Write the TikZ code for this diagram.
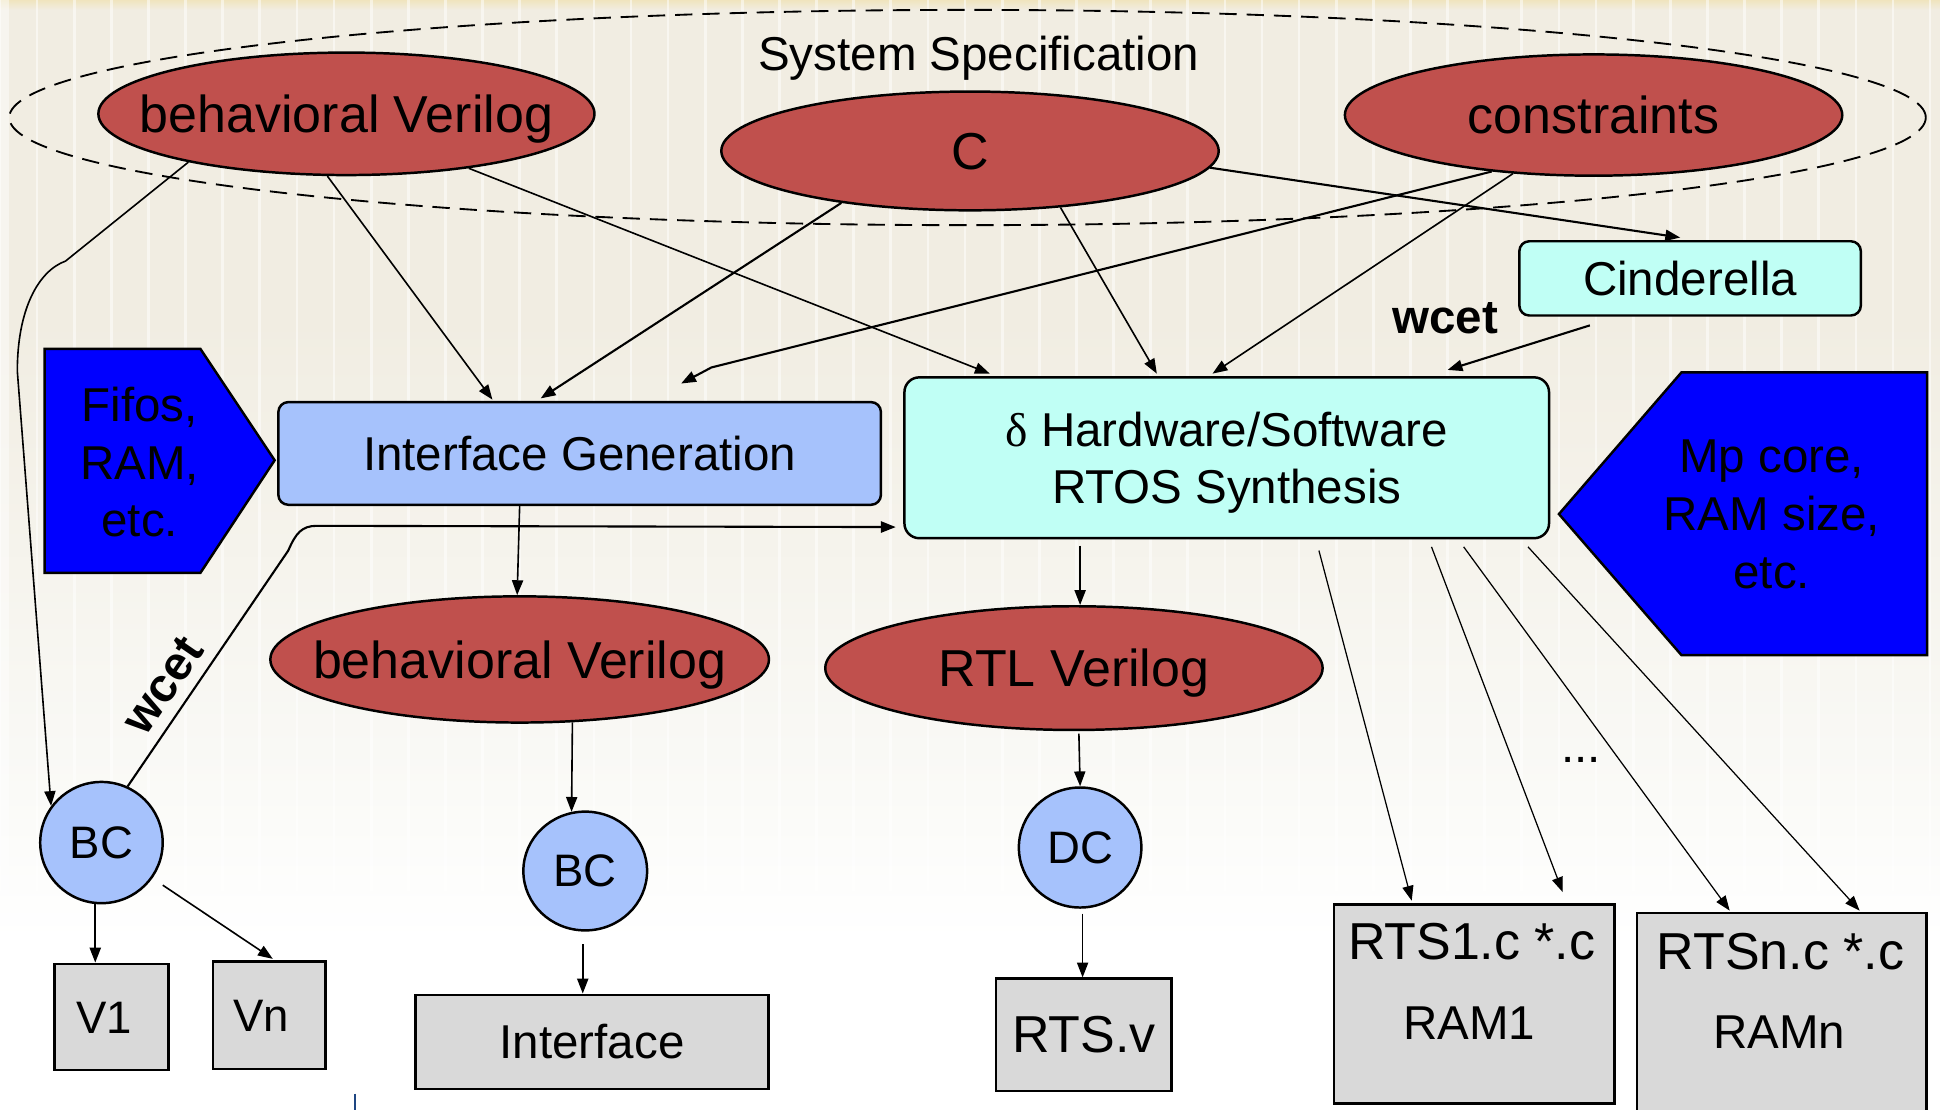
\documentclass[tikz,border=0pt]{standalone}
\usepackage{fontspec}
\setmainfont{Liberation Sans}
\newfontfamily\greekserif{Liberation Serif}
\usetikzlibrary{shapes.geometric,arrows.meta,calc}

\definecolor{specred}{RGB}{192,80,77}
\definecolor{paleblue}{RGB}{166,194,252}
\definecolor{palecyan}{RGB}{192,255,245}
\definecolor{padblue}{RGB}{0,0,255}
\definecolor{filegrey}{RGB}{217,217,217}
\definecolor{paper}{RGB}{241,237,226}
\definecolor{paperlight}{RGB}{250,250,247}
\definecolor{papertop}{RGB}{240,228,190}
\definecolor{inkblue}{RGB}{30,70,130}

\begin{document}
\begin{tikzpicture}[x=0.5pt,y=-0.5pt,
  big/.style={font=\fontsize{21}{25}\selectfont},
  std/.style={font=\fontsize{19.2}{23.4}\selectfont},
  lbl/.style={font=\fontsize{18.4}{22}\selectfont},
  spec/.style={ellipse, draw=black, line width=1pt, fill=specred,
    inner xsep=-40pt, inner ysep=-4pt, text depth=0pt, big},
  proc/.style={rectangle, rounded corners=4pt, draw=black, line width=1pt,
    inner sep=0pt, std},
  tool/.style={ellipse, draw=black, line width=1pt, fill=paleblue,
    inner sep=0pt, lbl},
  filebox/.style={rectangle, draw=black, line width=1pt, fill=filegrey,
    inner sep=0pt},
  pad/.style={draw=black, line width=1pt, fill=padblue},
  tip/.style={-{Triangle[length=6pt,width=4.5pt]}},
  flow/.style={tip, line width=0.65pt},
  flowb/.style={tip, line width=0.85pt},
  flowt/.style={tip, line width=0.5pt},
]
\useasboundingbox (0,0) rectangle (1568,897);
\clip (0,0) rectangle (1568,897);

% paper background with a faint grid
\fill[white] (0,0) rectangle (1568,897);
\fill[paper] (0,0) rectangle (1568,260);
\shade[top color=paper, bottom color=paperlight] (0,259) rectangle (1568,640);
\shade[top color=paperlight, bottom color=white] (0,639) rectangle (1568,760);
\shade[top color=papertop, bottom color=paper] (0,0) rectangle (1568,8);
\draw[white, opacity=0.5, line width=1.1pt, step=30] (0,0) grid (1568,720);
\fill[white, opacity=0.45] (0,0) rectangle (7,897);
\draw[inkblue, line width=1pt] (287,884) -- (287,897);

% system specification
\node[ellipse, draw=black, line width=0.75pt, dash pattern=on 7pt off 4pt,
  minimum width=774.5pt, minimum height=87pt, inner sep=0pt] (sys) at (782,95) {};
\node[std, text depth=0pt] (systxt) at (791,43) {System Specification};
\node[spec, minimum width=200.5pt, minimum height=49.5pt] (bv1) at (280,92) {behavioral Verilog};
\node[spec, minimum width=201pt, minimum height=48pt] (cc) at (784,122) {C};
\node[spec, minimum width=201pt, minimum height=49pt] (cons) at (1288,93) {constraints};

% synthesis steps
\node[proc, fill=paleblue, minimum width=243.5pt, minimum height=41.5pt] (ig) at (468.5,366.5) {Interface Generation};
\node[proc, fill=palecyan, rounded corners=6pt, minimum width=260.5pt, minimum height=65pt, align=center, text depth=0pt] (hw) at (991.5,370) {{\greekserif δ} Hardware/Software\\RTOS Synthesis};
\node[proc, fill=palecyan, minimum width=138pt, minimum height=30pt] (cin) at (1366,225) {Cinderella};

% library inputs
\draw[pad] (36,282) -- (162,282) -- (222,372) -- (162,463) -- (36,463) -- cycle;
\node[std, align=center] (fifo) at (113,373.5) {Fifos,\\RAM,\\etc.};
\draw[pad] (1260,415.5) -- (1359,301) -- (1557.5,301) -- (1557.5,529.5) -- (1359,529.5) -- cycle;
\node[std, align=center] (mp) at (1432,416) {Mp core,\\RAM size,\\etc.};

% generated descriptions
\node[spec, minimum width=201.5pt, minimum height=51pt] (bv2) at (420,533) {behavioral Verilog};
\node[spec, minimum width=201pt, minimum height=50pt] (rtl) at (868,540) {RTL Verilog};

% compilers
\node[tool, minimum width=49.5pt, minimum height=49pt] (bc1) at (82,681) {BC};
\node[tool, minimum width=50pt, minimum height=48pt] (bc2) at (473,704) {BC};
\node[tool, minimum width=49.5pt, minimum height=48.5pt] (dc) at (873,685) {DC};

% outputs
\node[filebox, minimum width=46pt, minimum height=43pt] (v1) at (90,822) {};
\node[lbl] (v1txt) at (84,823) {V1};
\node[filebox, minimum width=45.5pt, minimum height=43.5pt] (vn) at (217.5,820.5) {};
\node[lbl] (vntxt) at (211,821) {Vn};
\node[filebox, std, minimum width=142.5pt, minimum height=38pt] (intf) at (478.5,842) {Interface};
\node[filebox, big, minimum width=71pt, minimum height=45.5pt] (rtsv) at (876,836.5) {RTS.v};
\node[filebox, minimum width=113.5pt, minimum height=80.5pt] (rts1) at (1191.5,811.5) {};
\node[big] (rts1a) at ($(rts1.north)+(-2,31)$) {RTS1.c *.c};
\node[std] (rts1b) at ($(rts1.north)+(-4,97)$) {RAM1};
\node[filebox, minimum width=117pt, minimum height=84pt] (rtsn) at (1440,822) {};
\node[big] (rtsna) at ($(rtsn.north)+(-1,32)$) {RTSn.c *.c};
\node[std] (rtsnb) at ($(rtsn.north)+(-2,97)$) {RAMn};
\node[std] (dots) at (1278,614) {...};

% labels
\node[font=\bfseries\fontsize{19.2}{23}\selectfont] (wcet1) at (1168,257) {wcet};
\node[font=\bfseries\fontsize{19.2}{23}\selectfont, rotate=55.5, inner sep=0pt] (wcet2) at (132,554) {wcet};

% connectors from the specification
\coordinate (k1) at (53,211);
\coordinate (k2) at (14,300);
\draw[flow] (bv1.-163.5) -- (k1) .. controls +(-22,8) and +(0,-50) .. (k2) -- (bc1.144);
\draw[flow] (bv1.-107.8) -- ($(ig.north)+(-70.5,-1)$);
\draw[flow] (bv1.-24.8) -- ($(hw.north)+(-191.5,-2)$);
\draw[flowb] (cc.-158.5) -- ($(ig.north)+(-31.5,-2)$);
\draw[flow] (cc.-32.3) -- ($(hw.north)+(-56.5,-2)$);
\draw[flowb] (cc.-4.3) -- ($(cin.north)+(-8,-2)$);
\coordinate (k3) at (575,297);
\draw[flowb] (cons.-151.9) -- (k3) -- ($(ig.north)+(82,-14)$);
\draw[flow] (cons.-144.5) -- ($(hw.north)+(-11.5,-2)$);
\draw[flowb] ($(cin.south)+(-81,7)$) -- ($(hw.north)+(178.5,-5)$);

% connectors between synthesis steps
\draw[flow] ($(ig.south)+(-48.5,0)$) -- ($(bv2.north)+(-2,0)$);
\draw[flow] ($(hw.south)+(-118.5,5)$) -- ($(rtl.north)+(5,0)$);
\coordinate (k4) at (233,445);
\coordinate (k5) at (256,425);
\draw[flowb] (bc1.65.9) -- (k4) .. controls +(6,-14) and +(-12,0) .. (k5) -- ($(hw.south west)+(-6,-10)$);

% connectors to the outputs
\draw[flow] (bv2.-50.7) -- (bc2.103);
\draw[flow] ($(rtl.south)+(4,2)$) -- (dc.north);
\draw[flow] ($(bc1.south)+(-5,0)$) -- ($(v1.north)+(-13,0)$);
\draw[flow, shorten <=5pt] (bc1.-35.5) -- ($(vn.north)+(3,-1)$);
\draw[flow] ($(bc2.south)+(-2,10)$) -- ($(intf.north)+(-7.5,0)$);
\draw[flow] ($(dc.south)+(2,4)$) -- ($(rtsv.north)+(-1,0)$);
\draw[flowt] ($(hw.south)+(74.5,9)$) -- ($(rts1.north)+(-50.5,-2)$);
\draw[flowt] ($(hw.south)+(165.5,6)$) -- ($(rts1.north)+(71.5,-9)$);
\draw[flowt] ($(hw.south)+(191.5,6)$) -- ($(rtsn.north)+(-42,-1)$);
\draw[flowt] ($(hw.south)+(243.5,6)$) -- ($(rtsn.north)+(63,-1)$);
\end{tikzpicture}
\end{document}
